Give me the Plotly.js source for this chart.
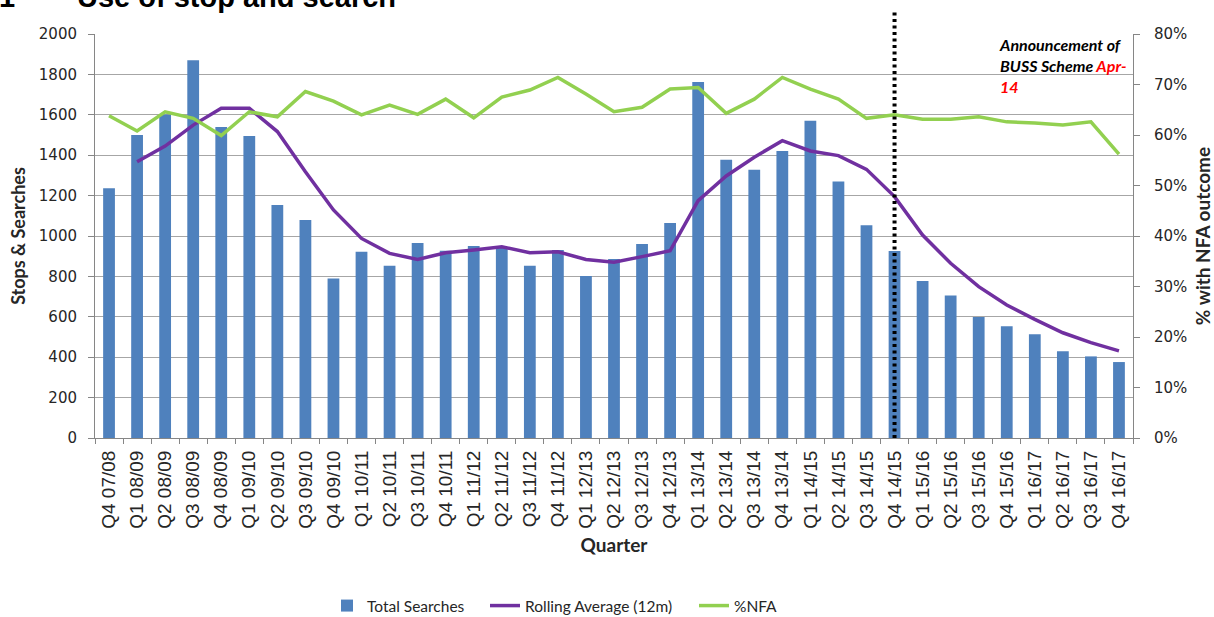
<!DOCTYPE html>
<html>
<head>
<meta charset="utf-8">
<script src="https://cdn.plot.ly/plotly-3.0.1.min.js"></script>
<style>
  html, body { margin: 0; padding: 0; background: #fff; }
  #chart { width: 1214px; height: 617px; }
</style>
</head>
<body>
<div id="chart"></div>
<script>
const quarters = [
  "Q4 07/08",
  "Q1 08/09", "Q2 08/09", "Q3 08/09", "Q4 08/09",
  "Q1 09/10", "Q2 09/10", "Q3 09/10", "Q4 09/10",
  "Q1 10/11", "Q2 10/11", "Q3 10/11", "Q4 10/11",
  "Q1 11/12", "Q2 11/12", "Q3 11/12", "Q4 11/12",
  "Q1 12/13", "Q2 12/13", "Q3 12/13", "Q4 12/13",
  "Q1 13/14", "Q2 13/14", "Q3 13/14", "Q4 13/14",
  "Q1 14/15", "Q2 14/15", "Q3 14/15", "Q4 14/15",
  "Q1 15/16", "Q2 15/16", "Q3 15/16", "Q4 15/16",
  "Q1 16/17", "Q2 16/17", "Q3 16/17", "Q4 16/17"
];

const totalSearches = [
  1236,
  1500, 1602, 1870, 1540,
  1495, 1153, 1079, 789,
  922, 853, 965, 927,
  950, 940, 853, 931,
  802, 886, 960, 1064,
  1762, 1378, 1328, 1421,
  1571, 1270, 1053, 926,
  777, 705, 599, 553,
  513, 429, 404, 376
];

const rollingAverage = [
  null,
  1368, 1445, 1549, 1632,
  1632, 1517, 1318, 1129,
  988, 914, 884, 917,
  931, 947, 917, 922,
  884, 870, 898, 927,
  1175, 1297, 1390, 1472,
  1421, 1398, 1330, 1195,
  1005, 865, 749, 658,
  587, 521, 472, 431
];

const pctNFA = [
  0.638,
  0.608, 0.646, 0.633, 0.599,
  0.646, 0.636, 0.686, 0.667,
  0.640, 0.659, 0.641, 0.671,
  0.634, 0.675, 0.689, 0.714,
  0.681, 0.646, 0.655, 0.691,
  0.694, 0.643, 0.671, 0.714,
  0.691, 0.671, 0.633, 0.640,
  0.631, 0.631, 0.636, 0.626,
  0.624, 0.620, 0.626, 0.562
];

const announcementQuarter = "Q4 14/15";

const font = "Lato, 'Liberation Sans', sans-serif";
const yTickFont = "'DejaVu Sans', sans-serif";
const xTickFont = "'Liberation Sans', Arial, sans-serif";
const textColor = "#262626";
const axisColor = "#868686";
const gridColor = "#a6a6a6";

const traces = [
  {
    type: "bar",
    name: "Total Searches",
    x: quarters,
    y: totalSearches,
    marker: { color: "#4F81BD" },
    yaxis: "y",
    legend: "legend"
  },
  {
    type: "scatter",
    mode: "lines",
    name: "Rolling Average (12m)",
    x: quarters,
    y: rollingAverage,
    line: { color: "#7030A0", width: 3.5 },
    yaxis: "y",
    legend: "legend2"
  },
  {
    type: "scatter",
    mode: "lines",
    name: "%NFA",
    x: quarters,
    y: pctNFA,
    line: { color: "#92D050", width: 3.5 },
    yaxis: "y2",
    legend: "legend3"
  }
];

function legendAt(px) {
  return {
    orientation: "h",
    xref: "container",
    x: px / 1214,
    xanchor: "left",
    yref: "container",
    y: 1 - 606 / 617,
    yanchor: "middle",
    font: { family: font, size: 15.5, color: textColor },
    itemwidth: 30,
    bgcolor: "rgba(0,0,0,0)"
  };
}

const layout = {
  width: 1214,
  height: 617,
  margin: { l: 95, r: 81, t: 34, b: 179 },
  paper_bgcolor: "#ffffff",
  plot_bgcolor: "#ffffff",
  font: { family: font, size: 16, color: textColor },
  bargap: 0.58,
  showlegend: true,
  legend: legendAt(327),
  legend2: legendAt(485),
  legend3: legendAt(694),
  xaxis: {
    type: "category",
    tickangle: -90,
    ticks: "outside",
    tickson: "boundaries",
    ticklen: 5,
    tickcolor: axisColor,
    ticklabelstandoff: 4,
    showline: true,
    linecolor: axisColor,
    linewidth: 1,
    showgrid: false,
    tickfont: { family: xTickFont, size: 19, color: textColor },
    title: {
      text: "<b>Quarter</b>",
      font: { family: font, size: 19, color: textColor },
      standoff: 10
    }
  },
  yaxis: {
    range: [0, 2000],
    dtick: 200,
    ticks: "outside",
    ticklen: 6,
    tickcolor: axisColor,
    ticklabelstandoff: 8,
    showline: true,
    linecolor: axisColor,
    showgrid: true,
    gridcolor: gridColor,
    gridwidth: 1,
    zeroline: false,
    tickfont: { family: yTickFont, size: 15, color: textColor },
    title: {
      text: "<b>Stops & Searches</b>",
      font: { family: font, size: 18, color: textColor },
      standoff: 8
    }
  },
  yaxis2: {
    overlaying: "y",
    side: "right",
    range: [0, 0.8],
    dtick: 0.1,
    tickformat: ".0%",
    ticks: "outside",
    ticklen: 6,
    tickcolor: axisColor,
    ticklabelstandoff: 11,
    showline: true,
    linecolor: axisColor,
    showgrid: false,
    zeroline: false,
    tickfont: { family: yTickFont, size: 15, color: textColor },
    title: {
      text: "<b>% with NFA outcome</b>",
      font: { family: font, size: 19, color: textColor },
      standoff: 10
    }
  },
  shapes: [
    {
      type: "line",
      xref: "x",
      yref: "paper",
      x0: announcementQuarter,
      x1: announcementQuarter,
      y0: 0,
      y1: 1.057,
      line: { color: "#000000", width: 4, dash: "3px,3.5px" },
      layer: "above"
    }
  ],
  annotations: [
    {
      xref: "paper",
      yref: "paper",
      x: 0.869,
      y: 1.002,
      xanchor: "left",
      yanchor: "top",
      align: "left",
      showarrow: false,
      text: "<b><i>Announcement of<br>BUSS Scheme <span style='color:#ff0000'>Apr-</span><br><span style='color:#ff0000'>14</span></i></b>",
      font: { family: font, size: 16, color: "#000000" }
    },
    {
      xref: "paper",
      yref: "paper",
      x: -0.094,
      y: 1.046,
      xanchor: "left",
      yanchor: "bottom",
      align: "left",
      showarrow: false,
      text: "<b>1</b>",
      font: { family: "'Liberation Sans', Arial, sans-serif", size: 29, color: "#000000" }
    },
    {
      xref: "paper",
      yref: "paper",
      x: -0.019,
      y: 1.046,
      xanchor: "left",
      yanchor: "bottom",
      align: "left",
      showarrow: false,
      text: "<b>Use of stop and search</b>",
      font: { family: "'Liberation Sans', Arial, sans-serif", size: 29, color: "#000000" }
    }
  ]
};

Plotly.newPlot("chart", traces, layout, { displayModeBar: false, staticPlot: true });
</script>
</body>
</html>
